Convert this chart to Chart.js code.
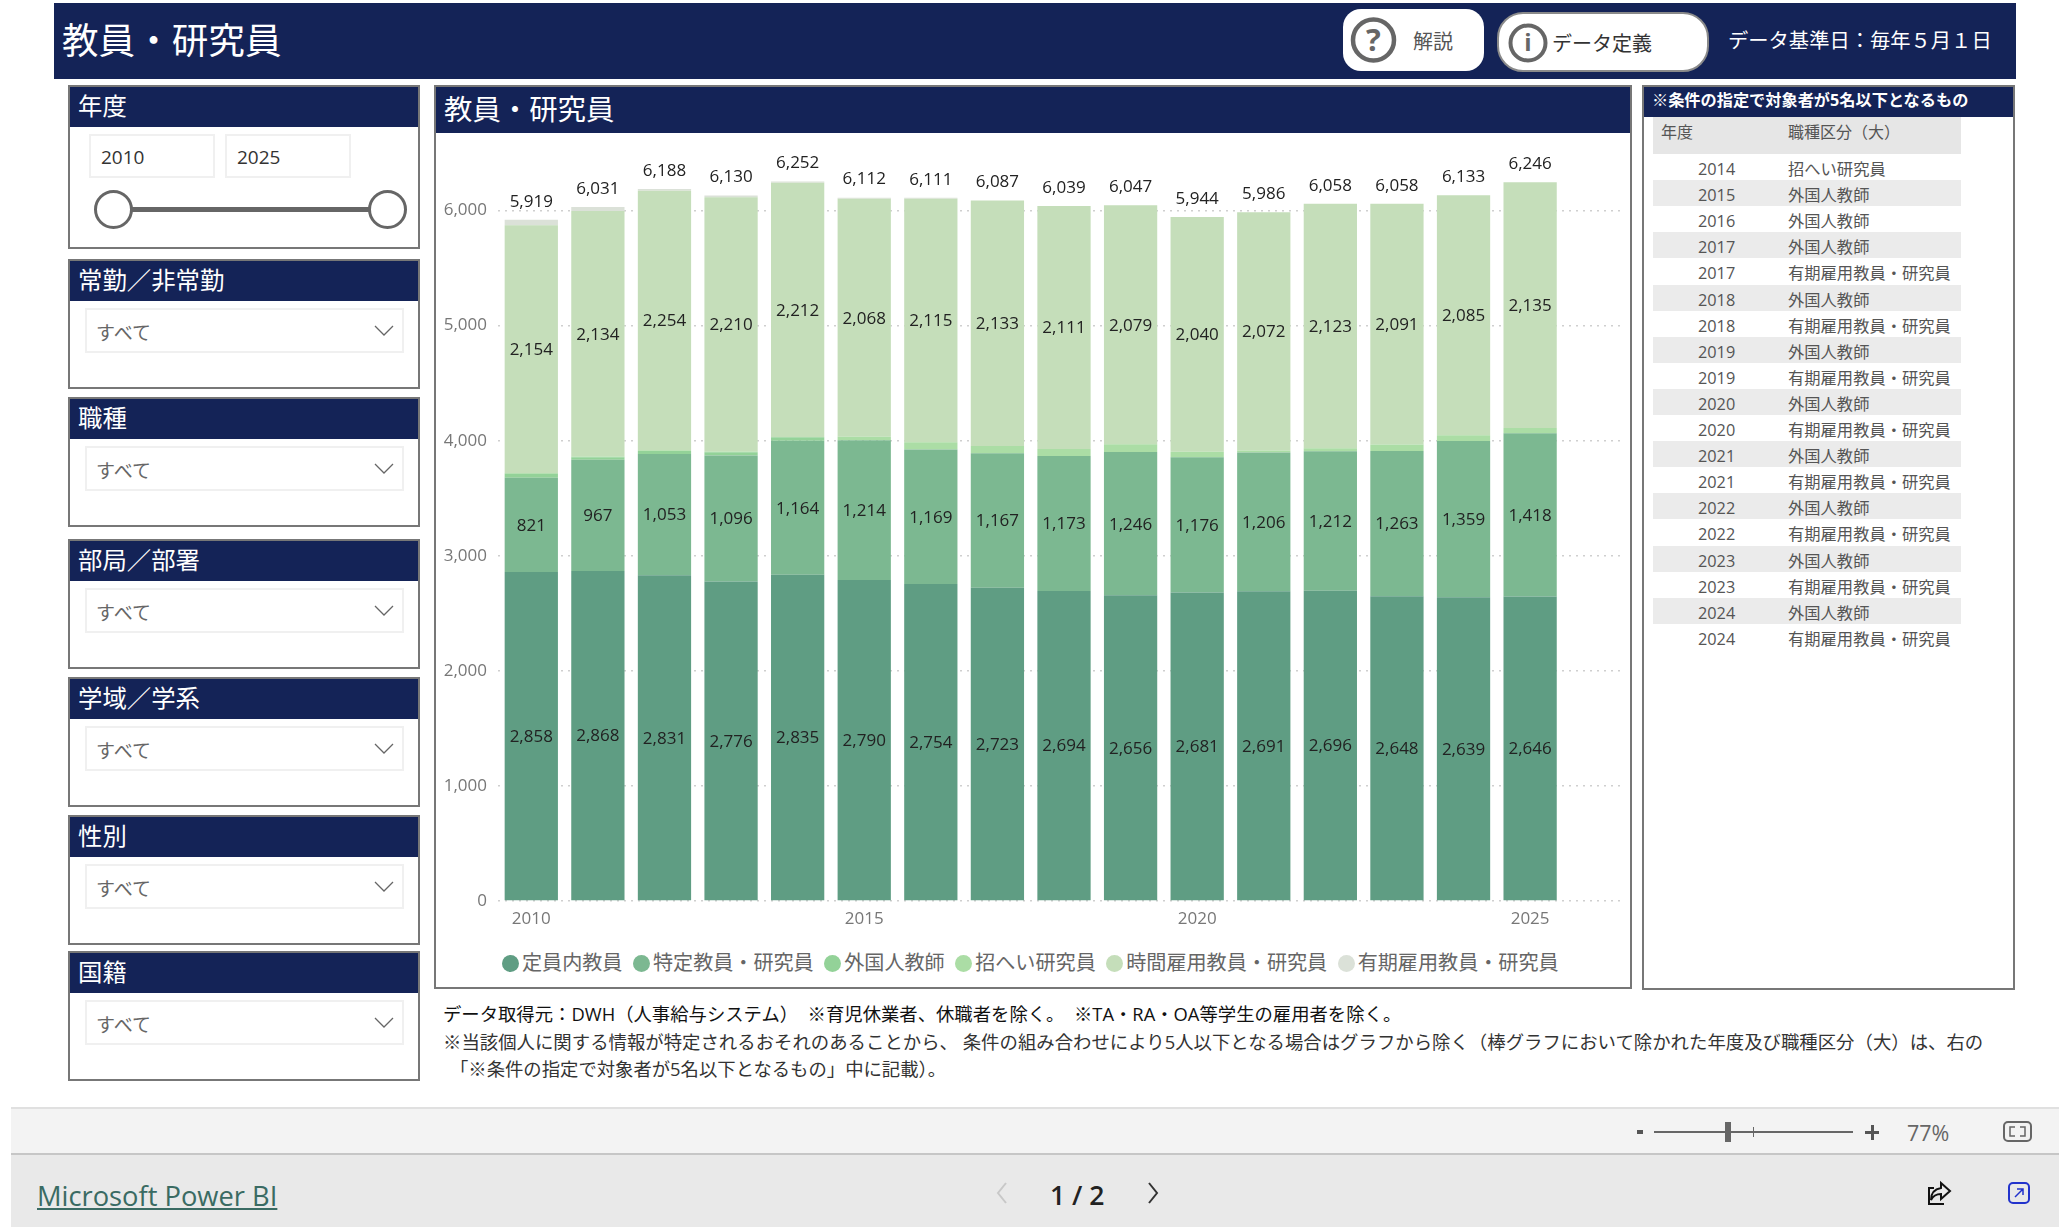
<!DOCTYPE html>
<html lang="ja">
<head>
<meta charset="utf-8">
<title>教員・研究員</title>
<script src="https://cdn.jsdelivr.net/npm/chart.js@4/dist/chart.umd.min.js"></script>
<style>
html, body { margin: 0; padding: 0; background: #fff; }
body { width: 2067px; height: 1232px; position: relative; overflow: hidden; font-family: "Open Sans", "Noto Sans CJK JP", sans-serif; color: #333; }
.abs { position: absolute; }
.navy { background: #142357; color: #fff; }
.panel { position: absolute; box-sizing: border-box; border: 2px solid #777; background: #fff; }
.panel-title { position: absolute; left: 0; right: 0; top: 0; background: #142357; color: #fff; white-space: nowrap; }
.box { position: absolute; box-sizing: border-box; border: 2px solid #f0f0f0; background: #fff; }
.line { position: absolute; white-space: nowrap; line-height: 1; }
#legend { position: absolute; left: 502px; top: 952px; display: flex; gap: 10.5px; font-size: 20.1px; color: #666; line-height: 22px; white-space: nowrap; }
#legend span.item { display: flex; align-items: center; gap: 3px; }
#legend i { display: block; width: 17px; height: 17px; border-radius: 50%; }
#chartClip { position: absolute; left: 434px; top: 153px; width: 1191px; height: 787px; overflow: hidden; }
#chartClip canvas { display: block; }
#tableRows .row { position: absolute; left: 1653px; width: 308px; height: 26px; }
#tableRows .row.alt { background: #ebebeb; }
#tableRows span { position: absolute; font-size: 16.3px; line-height: 26px; color: #555; white-space: nowrap; top: 2px; }
</style>
</head>
<body>

<!-- 上部ヘッダー -->
<div class="abs navy" style="left:54px;top:3px;width:1962px;height:76px;"></div>
<div class="line" style="left:62px;top:22px;font-size:36.6px;color:#fff;">教員・研究員</div>

<div class="abs" style="left:1343px;top:9px;width:141px;height:62px;background:#fff;border-radius:18px;"></div>
<svg class="abs" style="left:1349px;top:15px;" width="50" height="50">
  <circle cx="24.5" cy="25" r="20.5" fill="none" stroke="#666" stroke-width="4.5"/>
  <text x="24.5" y="36" text-anchor="middle" font-size="31" font-weight="700" fill="#666" font-family="Open Sans">?</text>
</svg>
<div class="line" style="left:1413px;top:32px;font-size:20px;color:#555;">解説</div>

<div class="abs" style="left:1497px;top:12px;width:212px;height:60px;box-sizing:border-box;background:#fff;border:2px solid #8a8a8a;border-radius:26px;"></div>
<svg class="abs" style="left:1506px;top:21px;" width="44" height="44">
  <circle cx="22" cy="22" r="17.5" fill="none" stroke="#666" stroke-width="4"/>
  <text x="22" y="30" text-anchor="middle" font-size="24" font-weight="700" fill="#666" font-family="Open Sans">i</text>
</svg>
<div class="line" style="left:1552px;top:34px;font-size:20px;color:#333;">データ定義</div>
<div class="line" style="left:1728px;top:30px;font-size:20.3px;color:#fff;">データ基準日：毎年５月１日</div>

<!-- 年度スライサー -->
<div class="panel" style="left:68px;top:85px;width:352px;height:164px;">
  <div class="panel-title" style="height:40px;"></div>
</div>
<div class="line" style="left:78px;top:94px;font-size:24.4px;color:#fff;">年度</div>
<div class="box" style="left:89px;top:134px;width:126px;height:44px;"></div>
<div class="box" style="left:225px;top:134px;width:126px;height:44px;"></div>
<div class="line" style="left:101px;top:148px;font-size:19px;color:#333;">2010</div>
<div class="line" style="left:237px;top:148px;font-size:19px;color:#333;">2025</div>
<div class="abs" style="left:115px;top:207px;width:272px;height:5px;background:#666;"></div>
<div class="abs" style="left:94px;top:190px;width:39px;height:39px;box-sizing:border-box;border:3px solid #666;border-radius:50%;background:#fff;"></div>
<div class="abs" style="left:368px;top:190px;width:39px;height:39px;box-sizing:border-box;border:3px solid #666;border-radius:50%;background:#fff;"></div>

<!-- ドロップダウンのスライサーはスクリプトで追加 -->
<div id="slicers"></div>

<!-- グラフ -->
<div class="panel" style="left:434px;top:85px;width:1198px;height:904px;">
  <div class="panel-title" style="height:46px;"></div>
</div>
<div class="line" style="left:444px;top:95px;font-size:28.4px;color:#fff;">教員・研究員</div>
<div id="chartClip"><canvas id="staffChart" width="1196" height="787"></canvas></div>
<div id="legend"></div>

<!-- 除外リスト -->
<div class="panel" style="left:1642px;top:85px;width:373px;height:905px;">
  <div class="panel-title" style="height:30px;"></div>
</div>
<div class="line" style="left:1652px;top:92px;font-size:16.2px;font-weight:700;color:#fff;">※条件の指定で対象者が5名以下となるもの</div>
<div class="abs" style="left:1653px;top:117px;width:308px;height:37px;background:#e6e6e6;"></div>
<div class="line" style="left:1661px;top:124px;font-size:16px;color:#555;">年度</div>
<div class="line" style="left:1788px;top:124px;font-size:16px;color:#555;">職種区分（大）</div>
<div id="tableRows"></div>

<!-- 注記 -->
<div class="line" style="left:443px;top:1005px;font-size:18.35px;color:#111;">データ取得元：DWH（人事給与システム）&nbsp; ※育児休業者、休職者を除く。&nbsp; ※TA・RA・OA等学生の雇用者を除く。</div>
<div class="line" style="left:443px;top:1033px;font-size:18.4px;color:#333;">※当該個人に関する情報が特定されるおそれのあることから、 条件の組み合わせにより5人以下となる場合はグラフから除く（棒グラフにおいて除かれた年度及び職種区分（大）は、右の</div>
<div class="line" style="left:450px;top:1060px;font-size:18.35px;color:#333;">「※条件の指定で対象者が5名以下となるもの」中に記載）。</div>

<!-- Power BI のフッター -->
<div class="abs" style="left:11px;top:1107px;width:2048px;height:44px;background:#f3f3f3;border-top:2px solid #e0e0e0;"></div>
<div class="abs" style="left:11px;top:1153px;width:2048px;height:2px;background:#c6c6c6;"></div>
<div class="abs" style="left:11px;top:1155px;width:2048px;height:72px;background:#e9e9e9;"></div>
<div class="abs" style="left:1637px;top:1130px;width:6px;height:4px;background:#555;"></div>
<div class="abs" style="left:1654px;top:1131px;width:199px;height:2px;background:#666;"></div>
<div class="abs" style="left:1725px;top:1122px;width:6px;height:20px;background:#666;"></div>
<div class="abs" style="left:1753px;top:1127px;width:1px;height:10px;background:#666;"></div>
<div class="abs" style="left:1865px;top:1131px;width:14px;height:3px;background:#555;"></div>
<div class="abs" style="left:1870.5px;top:1125px;width:3px;height:15px;background:#555;"></div>
<div class="line" style="left:1907px;top:1122px;font-size:21.5px;color:#666;">77%</div>
<svg class="abs" style="left:2002px;top:1118px;" width="32" height="28">
  <rect x="2" y="4" width="27" height="19" rx="4" fill="none" stroke="#666" stroke-width="2"/>
  <path d="M8 14V9h5M23 14V9h-5M8 13v5h5M23 13v5h-5" fill="none" stroke="#666" stroke-width="1.5"/>
</svg>
<div class="line" style="left:37px;top:1182px;font-size:27.3px;color:#3a6b63;text-decoration:underline;">Microsoft Power BI</div>
<svg class="abs" style="left:994px;top:1180px;" width="16" height="26"><path d="M12 3L4 13l8 10" fill="none" stroke="#c8c8c8" stroke-width="2"/></svg>
<div class="line" style="left:1050px;top:1182px;font-size:26.5px;font-weight:600;color:#222;">1 / 2</div>
<svg class="abs" style="left:1145px;top:1180px;" width="16" height="26"><path d="M4 3l8 10L4 23" fill="none" stroke="#333" stroke-width="2"/></svg>
<svg class="abs" style="left:1926px;top:1180px;" width="26" height="26">
  <path d="M15 3l9 8-9 8v-5c-5 0-8 2-10 6 0-7 4-11 10-12z" fill="none" stroke="#111" stroke-width="2"/>
  <path d="M18 24H3V8h5" fill="none" stroke="#111" stroke-width="2"/>
</svg>
<svg class="abs" style="left:2006px;top:1180px;" width="26" height="26">
  <rect x="3" y="3" width="20" height="20" rx="4" fill="none" stroke="#2233cc" stroke-width="2"/>
  <path d="M9 17l8-8M11 9h6v6" fill="none" stroke="#2233cc" stroke-width="1.5"/>
</svg>

<script>
// 年度(最後の空ラベルはグラフ右側の余白用)
const years = ['2010','2011','2012','2013','2014','2015','2016','2017','2018','2019','2020','2021','2022','2023','2024','2025',''];
const labeledYears = ['2010','2015','2020','2025'];

// 職種別の人数
const regularStaff = [2858,2868,2831,2776,2835,2790,2754,2723,2694,2656,2681,2691,2696,2648,2639,2646];
const specialStaff = [821,967,1053,1096,1164,1214,1169,1167,1173,1246,1176,1206,1212,1263,1359,1418];
const foreignTeachers = [34,21,27,28,30,null,null,null,null,null,null,null,null,null,null,null];
const invitedResearchers = [6,6,6,6,null,31,64,64,61,66,47,17,27,56,50,47];
const hourlyStaff = [2154,2134,2254,2210,2212,2068,2115,2133,2111,2079,2040,2072,2123,2091,2085,2135];
const fixedTermStaff = [46,35,17,14,11,9,9,null,null,null,null,null,null,null,null,null];
const totals = [5919,6031,6188,6130,6252,6112,6111,6087,6039,6047,5944,5986,6058,6058,6133,6246];

const seriesNames = ['定員内教員','特定教員・研究員','外国人教師','招へい研究員','時間雇用教員・研究員','有期雇用教員・研究員'];
const seriesColors = ['#5f9d83','#7cb891','#93d298','#abdda5','#c5deba','#dbe1d8'];
const yTicks = [0,1000,2000,3000,4000,5000,6000];

// スライサー
const slicerNames = ['常勤／非常勤','職種','部局／部署','学域／学系','性別','国籍'];
const slicerTops = [259,397,539,677,815,951];

// 除外リスト
const excludedYears = [2014,2015,2016,2017,2017,2018,2018,2019,2019,2020,2020,2021,2021,2022,2022,2023,2023,2024,2024];
const excludedKinds = ['招へい研究員','外国人教師','外国人教師','外国人教師','有期雇用教員・研究員','外国人教師','有期雇用教員・研究員','外国人教師','有期雇用教員・研究員','外国人教師','有期雇用教員・研究員','外国人教師','有期雇用教員・研究員','外国人教師','有期雇用教員・研究員','外国人教師','有期雇用教員・研究員','外国人教師','有期雇用教員・研究員'];

function buildSlicers() {
    const root = document.getElementById('slicers');
    let html = '';
    slicerNames.forEach((name, i) => {
        const top = slicerTops[i];
        html += `<div class="panel" style="left:68px;top:${top}px;width:352px;height:130px;"><div class="panel-title" style="height:40px;"></div></div>`;
        html += `<div class="line" style="left:78px;top:${top + 9}px;font-size:24.4px;color:#fff;">${name}</div>`;
        html += `<div class="box" style="left:85px;top:${top + 49}px;width:319px;height:45px;"></div>`;
        html += `<div class="line" style="left:96px;top:${top + 65}px;font-size:19px;color:#666;">すべて</div>`;
        html += `<svg class="abs" style="left:373px;top:${top + 65}px;" width="22" height="14"><path d="M2 2l9 9 9-9" fill="none" stroke="#666" stroke-width="1.3"/></svg>`;
    });
    root.innerHTML = html;
}

function buildTable() {
    const root = document.getElementById('tableRows');
    let html = '';
    excludedYears.forEach((year, i) => {
        const top = 154 + i * 26.1;
        html += `<div class="row${i % 2 ? ' alt' : ''}" style="top:${top}px;">`;
        html += `<span style="left:45px;width:36px;text-align:right;">${year}</span>`;
        html += `<span style="left:135px;">${excludedKinds[i]}</span></div>`;
    });
    root.innerHTML = html;
}

function buildLegend() {
    document.getElementById('legend').innerHTML = seriesNames.map((name, i) =>
        `<span class="item"><i style="background:${seriesColors[i]}"></i>${name}</span>`).join('');
}

// 棒の中と上の数値
const barLabels = {
    id: 'barLabels',
    afterDatasetsDraw(chart) {
        const ctx = chart.ctx;
        ctx.save();
        ctx.font = '17px "Open Sans"';
        ctx.fillStyle = '#222';
        ctx.textAlign = 'center';
        ctx.textBaseline = 'middle';
        [0, 1, 4].forEach(ds => {
            chart.getDatasetMeta(ds).data.forEach((bar, i) => {
                const value = chart.data.datasets[ds].data[i];
                if (value !== undefined) {
                    ctx.fillText(value.toLocaleString('en-US'), bar.x, (bar.y + bar.base) / 2 + 1);
                }
            });
        });
        totals.forEach((total, i) => {
            const x = chart.getDatasetMeta(0).data[i].x;
            ctx.fillText(total.toLocaleString('en-US'), x, chart.scales.y.getPixelForValue(total) - 18);
        });
        ctx.restore();
    }
};

function initStaffChart() {
    const seriesValues = [regularStaff, specialStaff, foreignTeachers, invitedResearchers, hourlyStaff, fixedTermStaff];
    new Chart(document.getElementById('staffChart'), {
        type: 'bar',
        data: {
            labels: years,
            datasets: seriesNames.map((name, i) => ({
                label: name,
                data: seriesValues[i],
                backgroundColor: seriesColors[i],
                borderWidth: 0,
                barPercentage: 0.8,
                categoryPercentage: 1
            }))
        },
        options: {
            responsive: false,
            animation: false,
            devicePixelRatio: 1,
            plugins: { legend: { display: false }, tooltip: { enabled: false } },
            scales: {
                x: {
                    stacked: true,
                    grid: { display: false, drawTicks: false },
                    border: { display: false },
                    afterFit(scale) {
                        scale.height = 39;
                        scale.paddingLeft = 0;
                        scale.paddingRight = 0;
                    },
                    ticks: {
                        autoSkip: false,
                        maxRotation: 0,
                        padding: 8,
                        color: '#777',
                        font: { family: 'Open Sans', size: 17 },
                        callback(value) {
                            const label = this.getLabelForValue(value);
                            return labeledYears.includes(label) ? label : '';
                        }
                    }
                },
                y: {
                    stacked: true,
                    min: 0,
                    max: 6500,
                    afterFit(scale) {
                        scale.width = 64;
                        scale.paddingTop = 0;
                        scale.paddingBottom = 0;
                    },
                    afterBuildTicks(scale) { scale.ticks = yTicks.map(value => ({ value })); },
                    grid: { color: '#cfcfcf', lineWidth: 1.5, drawTicks: false },
                    border: { display: false, dash: [2, 5] },
                    ticks: {
                        padding: 11,
                        color: '#777',
                        font: { family: 'Open Sans', size: 17 },
                        callback: value => value.toLocaleString('en-US')
                    }
                }
            }
        },
        plugins: [barLabels]
    });
}

document.addEventListener('DOMContentLoaded', function() {
    buildSlicers();
    buildTable();
    buildLegend();
    initStaffChart();
});
</script>
</body>
</html>
